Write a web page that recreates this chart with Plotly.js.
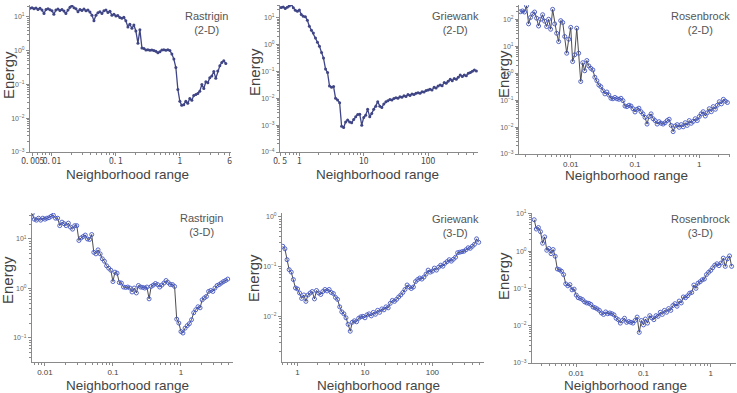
<!DOCTYPE html>
<html>
<head>
<meta charset="utf-8">
<script src="https://cdn.plot.ly/plotly-3.0.1.min.js"></script>
<style>
  html, body { margin: 0; padding: 0; background: #ffffff; }
  #chart { width: 737px; height: 393px; }
</style>
</head>
<body>
<div id="chart"></div>
<script>
// ---------------------------------------------------------------
// Energy versus neighborhood range, three test functions, 2-D / 3-D
// ---------------------------------------------------------------

// Rastrigin, 2-D
const rastrigin2dRange = [
  0.00453,0.00487,0.00523,0.00562,0.00604,0.00649,0.00698,0.00750,0.00806,0.00866,0.00931,
  0.0100,0.0107,0.0115,0.0124,0.0133,0.0143,0.0154,0.0165,0.0178,0.0191,0.0205,0.0221,0.0237,0.0255,0.0274,0.0294,
  0.0316,0.0340,0.0365,0.0392,0.0422,0.0453,0.0487,0.0523,0.0562,0.0604,0.0649,0.0698,0.0750,0.0806,0.0866,0.0931,
  0.100,0.107,0.115,0.124,0.133,0.143,0.154,0.165,0.178,0.191,0.205,0.221,0.237,0.255,0.274,0.294,
  0.316,0.340,0.365,0.392,0.422,0.453,0.487,0.523,0.562,0.604,0.649,0.698,0.750,0.806,0.866,0.931,
  1.00,1.07,1.15,1.24,1.33,1.43,1.54,1.65,1.78,1.91,2.05,2.21,2.37,2.55,2.74,2.94,3.16,3.40,3.65,3.92,4.22,4.53,4.87,5.23
];
const rastrigin2dEnergy = [
  17.8,18.6,17.4,18.2,16.6,17.8,15.8,12.6,16.6,17.4,16.2,
  15.1,12.0,15.8,17.0,15.5,16.6,14.8,12.6,15.8,19.1,21.4,18.6,17.4,14.1,16.6,15.5,
  17.0,15.1,15.8,13.8,11.2,7.6,11.2,13.2,14.1,12.6,15.1,15.8,13.5,14.5,11.2,12.0,
  10.5,11.0,9.55,9.12,9.77,7.59,5.01,6.03,4.57,5.75,3.80,1.66,4.17,1.20,1.15,1.05,
  1.07,1.02,1.05,1.00,0.955,0.871,0.933,1.05,1.07,1.02,1.07,1.00,0.794,0.562,0.316,0.0708,
  0.0316,0.0240,0.0251,0.0316,0.0275,0.0380,0.0339,0.0468,0.0501,0.0537,0.0631,0.100,0.0759,0.120,0.112,0.158,
  0.178,0.240,0.151,0.251,0.355,0.447,0.501,0.417
];

// Griewank, 2-D
const griewank2dRange = [
  0.523,0.562,0.604,0.649,0.698,0.750,0.806,0.866,0.931,
  1.00,1.07,1.15,1.24,1.33,1.43,1.54,1.65,1.78,1.91,2.05,2.21,2.37,2.55,2.74,2.94,
  3.16,3.40,3.65,3.92,4.22,4.53,4.87,5.23,5.62,6.04,6.49,6.98,7.50,8.06,8.66,9.31,
  10.0,10.7,11.5,12.4,13.3,14.3,15.4,16.5,17.8,19.1,20.5,22.1,23.7,25.5,27.4,29.4,
  31.6,34.0,36.5,39.2,42.2,45.3,48.7,52.3,56.2,60.4,64.9,69.8,75.0,80.6,86.6,93.1,
  100,107,115,124,133,143,154,165,178,191,205,221,237,255,274,294,316,340,365,392,422,453,487,523,562
];
const griewank2dEnergy = [
  24.5,25.7,22.4,25.1,27.5,30.9,24.0,19.1,17.8,
  19.5,13.5,11.5,11.0,8.13,4.90,3.47,2.75,1.78,1.23,0.871,0.513,0.316,0.123,0.0912,0.0288,
  0.0257,0.0275,0.0100,0.00871,0.00692,0.000912,0.000813,0.00132,0.00155,0.00132,0.00123,0.00162,0.00204,0.00251,0.00257,0.00100,
  0.00195,0.00234,0.00389,0.00204,0.00275,0.00389,0.00513,0.00741,0.00513,0.00457,0.00617,0.00741,0.00813,0.00912,0.00871,0.00977,
  0.0105,0.0100,0.0115,0.0110,0.0126,0.0117,0.0138,0.0129,0.0145,0.0138,0.0155,0.0162,0.0155,0.0178,0.0174,0.0195,
  0.0204,0.0219,0.0204,0.0257,0.0245,0.0288,0.0316,0.0295,0.0389,0.0363,0.0437,0.0513,0.0457,0.0550,0.0513,0.0617,
  0.0741,0.0646,0.0741,0.0692,0.0871,0.0912,0.102,0.115,0.105
];

// Rosenbrock, 2-D
const rosenbrock2dRange = [
  0.00165,0.00178,0.00191,0.00205,0.00221,0.00237,0.00255,0.00274,0.00294,
  0.00316,0.00340,0.00365,0.00392,0.00422,0.00453,0.00487,0.00523,0.00562,0.00604,0.00649,0.00698,0.00750,0.00806,0.00866,0.00931,
  0.0100,0.0107,0.0115,0.0124,0.0133,0.0143,0.0154,0.0165,0.0178,0.0191,0.0205,0.0221,0.0237,0.0255,0.0274,0.0294,
  0.0316,0.0340,0.0365,0.0392,0.0422,0.0453,0.0487,0.0523,0.0562,0.0604,0.0649,0.0698,0.0750,0.0806,0.0866,0.0931,
  0.100,0.107,0.115,0.124,0.133,0.143,0.154,0.165,0.178,0.191,0.205,0.221,0.237,0.255,0.274,0.294,
  0.316,0.340,0.365,0.392,0.422,0.453,0.487,0.523,0.562,0.604,0.649,0.698,0.750,0.806,0.866,0.931,
  1.00,1.07,1.15,1.24,1.33,1.43,1.54,1.65,1.78,1.91,2.05,2.21,2.37,2.55,2.74
];
const rosenbrock2dEnergy = [
  191,204,186,316,67.6,117,158,186,110,56.2,100,148,85.1,53.7,100,42.7,234,67.6,30.2,14.8,89.1,75.9,22.9,5.50,18.2,
  50.1,2.69,4.79,46.8,5.50,0.490,2.45,1.23,2.95,1.86,1.51,1.32,0.708,0.525,0.363,0.316,
  0.224,0.170,0.200,0.155,0.117,0.112,0.126,0.112,0.107,0.117,0.0955,0.0603,0.0575,0.0646,0.0603,0.0479,
  0.0363,0.0457,0.0501,0.0372,0.0309,0.0229,0.0129,0.0245,0.0309,0.0204,0.0174,0.0129,0.0158,0.0138,0.0129,0.0145,
  0.0174,0.0195,0.0115,0.00676,0.0110,0.0123,0.00977,0.0123,0.0102,0.0145,0.0115,0.0174,0.0138,0.0162,0.0204,0.0174,
  0.0245,0.0309,0.0372,0.0257,0.0339,0.0479,0.0372,0.0575,0.0457,0.0646,0.0871,0.0724,0.107,0.0912,0.0813
];

// Rastrigin, 3-D
const rastrigin3dRange = [
  0.00649,0.00698,0.00750,0.00806,0.00866,0.00931,
  0.0100,0.0107,0.0115,0.0124,0.0133,0.0143,0.0154,0.0165,0.0178,0.0191,0.0205,0.0221,0.0237,0.0255,0.0274,0.0294,
  0.0316,0.0340,0.0365,0.0392,0.0422,0.0453,0.0487,0.0523,0.0562,0.0604,0.0649,0.0698,0.0750,0.0806,0.0866,0.0931,
  0.100,0.107,0.115,0.124,0.133,0.143,0.154,0.165,0.178,0.191,0.205,0.221,0.237,0.255,0.274,0.294,
  0.316,0.340,0.365,0.392,0.422,0.453,0.487,0.523,0.562,0.604,0.649,0.698,0.750,0.806,0.866,0.931,
  1.00,1.07,1.15,1.24,1.33,1.43,1.54,1.65,1.78,1.91,2.05,2.21,2.37,2.55,2.74,2.94,3.16,3.40,3.65,3.92,4.22,4.53,4.87
];
const rastrigin3dEnergy = [
  32.4,25.1,24.0,26.3,24.0,26.3,
  25.1,26.3,26.9,28.8,30.2,26.3,26.3,18.6,21.9,20.4,18.6,20.9,17.4,15.8,18.6,18.6,
  9.33,10.5,11.2,12.0,10.0,9.77,12.3,5.37,5.01,6.03,5.01,3.98,3.55,2.88,2.57,2.34,
  1.38,2.14,2.04,1.32,1.29,1.07,1.05,1.07,1.02,0.851,1.02,0.813,1.15,1.07,1.05,1.02,
  1.07,0.617,1.10,1.17,1.26,1.20,1.07,1.17,1.29,1.45,1.32,1.20,1.20,1.10,0.240,0.200,
  0.135,0.126,0.158,0.178,0.195,0.234,0.324,0.372,0.427,0.407,0.589,0.646,0.692,0.871,0.912,0.871,
  1.02,1.15,1.20,1.29,1.38,1.45,1.55
];

// Griewank, 3-D
const griewank3dRange = [
  0.604,0.649,0.698,0.750,0.806,0.866,0.931,
  1.00,1.07,1.15,1.24,1.33,1.43,1.54,1.65,1.78,1.91,2.05,2.21,2.37,2.55,2.74,2.94,
  3.16,3.40,3.65,3.92,4.22,4.53,4.87,5.23,5.62,6.04,6.49,6.98,7.50,8.06,8.66,9.31,
  10.0,10.7,11.5,12.4,13.3,14.3,15.4,16.5,17.8,19.1,20.5,22.1,23.7,25.5,27.4,29.4,
  31.6,34.0,36.5,39.2,42.2,45.3,48.7,52.3,56.2,60.4,64.9,69.8,75.0,80.6,86.6,93.1,
  100,107,115,124,133,143,154,165,178,191,205,221,237,255,274,294,316,340,365,392,422,453,487
];
const griewank3dEnergy = [
  0.257,0.229,0.138,0.0871,0.0776,0.0550,0.0372,
  0.0355,0.0295,0.0229,0.0269,0.0200,0.0269,0.0295,0.0316,0.0224,0.0331,0.0295,0.0275,0.0316,0.0347,0.0324,0.0347,
  0.0302,0.0288,0.0240,0.0219,0.0155,0.0123,0.0112,0.00933,0.00692,0.00501,0.00759,0.00813,0.00776,0.00912,0.00977,0.0100,
  0.00933,0.0107,0.0112,0.0102,0.0120,0.0110,0.0132,0.0120,0.0141,0.0135,0.0155,0.0148,0.0182,0.0209,0.0200,0.0219,
  0.0245,0.0269,0.0302,0.0347,0.0427,0.0389,0.0363,0.0389,0.0501,0.0550,0.0589,0.0562,0.0617,0.0708,0.0851,0.0776,
  0.0813,0.0933,0.0851,0.0977,0.107,0.102,0.117,0.126,0.138,0.129,0.141,0.155,0.191,0.195,0.200,0.204,
  0.219,0.240,0.234,0.257,0.282,0.363,0.309
];

// Rosenbrock, 3-D
const rosenbrock3dRange = [
  0.00237,0.00255,0.00274,0.00294,0.00316,0.00340,0.00365,0.00392,0.00422,0.00453,
  0.00487,0.00523,0.00562,0.00604,0.00649,0.00698,0.00750,0.00806,0.00866,0.00931,
  0.0100,0.0107,0.0115,0.0124,0.0133,0.0143,0.0154,0.0165,0.0178,0.0191,0.0205,0.0221,0.0237,0.0255,0.0274,0.0294,
  0.0316,0.0340,0.0365,0.0392,0.0422,0.0453,0.0487,0.0523,0.0562,0.0604,0.0649,0.0698,0.0750,0.0806,0.0866,0.0931,
  0.100,0.107,0.115,0.124,0.133,0.143,0.154,0.165,0.178,0.191,0.205,0.221,0.237,0.255,0.274,0.294,
  0.316,0.340,0.365,0.392,0.422,0.453,0.487,0.523,0.562,0.604,0.649,0.698,0.750,0.806,0.866,0.931,
  1.00,1.07,1.15,1.24,1.33,1.43,1.54,1.65,1.78,1.91,2.05
];
const rosenbrock3dEnergy = [
  6.92,3.89,4.27,3.31,1.62,2.40,1.05,1.17,0.851,1.10,
  0.724,0.331,0.316,0.288,0.234,0.132,0.117,0.126,0.0912,0.0955,
  0.0661,0.0562,0.0537,0.0501,0.0437,0.0407,0.0398,0.0372,0.0316,0.0302,0.0282,0.0257,0.0219,0.0200,0.0234,0.0209,
  0.0219,0.0209,0.0195,0.0158,0.0145,0.0117,0.0138,0.0158,0.0123,0.0129,0.0123,0.0117,0.0138,0.0170,0.00661,0.0138,
  0.0105,0.0151,0.0117,0.0186,0.0162,0.0145,0.0186,0.0178,0.0229,0.0200,0.0257,0.0229,0.0288,0.0257,0.0347,0.0389,
  0.0331,0.0457,0.0407,0.0589,0.0562,0.0631,0.0741,0.0776,0.123,0.100,0.138,0.151,0.170,0.178,0.234,0.269,
  0.302,0.355,0.417,0.457,0.407,0.479,0.646,0.389,0.617,0.741,0.389
];

// Panel titles and axis labels
const panelNames = ["Rastrigin<br>(2-D)", "Griewank<br>(2-D)", "Rosenbrock<br>(2-D)",
                    "Rastrigin<br>(3-D)", "Griewank<br>(3-D)", "Rosenbrock<br>(3-D)"];
const xTitle = "Neighborhood range";
const yTitle = "Energy";

// Tick labels per panel
const xTickVals = [[0.005, 0.01, 0.1, 1, 6], [0.5, 1, 10, 100, 600], [0.01, 0.1, 1],
                   [0.01, 0.1, 1], [1, 10, 100], [0.01, 0.1, 1]];
const xTickText = [["0. 005", "0. 01", "0. 1", "1", "6"], ["0. 5", "1", "10", "100", "600"], ["0.01", "0.1", "1"],
                   ["0.01", "0.1", "1"], ["1", "10", "100"], ["0.01", "0.1", "1"]];
const yTickExp = [[-3, -2, -1, 0, 1], [-4, -3, -2, -1, 0, 1], [-3, -2, -1, 0, 1, 2],
                  [-1, 0, 1], [-2, -1, 0], [-3, -2, -1, 0, 1]];

// ---------------------------------------------------------------
// Layout geometry (pixels) and styles
// ---------------------------------------------------------------
const W = 737, H = 393;
const series = [
  [rastrigin2dRange, rastrigin2dEnergy], [griewank2dRange, griewank2dEnergy], [rosenbrock2dRange, rosenbrock2dEnergy],
  [rastrigin3dRange, rastrigin3dEnergy], [griewank3dRange, griewank3dEnergy], [rosenbrock3dRange, rosenbrock3dEnergy]
];
// plot boxes: left, right, top, bottom (px); axis ranges in log10 units
const boxes = [
  {l: 30,  r: 231, t: 5,   b: 152, xr: [-2.344, 0.80],  yr: [-3, 1.35]},
  {l: 280, r: 478, t: 5,   b: 152, xr: [-0.301, 2.775], yr: [-4, 1.48]},
  {l: 519, r: 730, t: 5,   b: 154, xr: [-2.805, 0.478], yr: [-3, 2.53]},
  {l: 32,  r: 233, t: 213, b: 362, xr: [-2.19, 0.765],  yr: [-1.485, 1.525]},
  {l: 282, r: 484, t: 213, b: 362, xr: [-0.231, 2.766], yr: [-2.92, 0.08]},
  {l: 532, r: 736, t: 213, b: 363, xr: [-2.658, 0.377], yr: [-3, 1.02]}
];
// label positions (px)
const xTitlePos = [[127, 174], [377, 174], [626, 175], [128, 385], [378, 385], [625, 385]];
const yTitlePos = [[8, 75], [255, 72], [503, 74], [7, 280], [253, 278], [503, 276]];
const namePos   = [[206, 8], [455, 8], [700, 8], [202, 210], [455, 211], [700, 211]];

const AXIS_GREY = "#8a8a8a";
const TEXT_GREY = "#555555";
const FONT = "Liberation Sans, Arial, sans-serif";

function supText(p) {
  return "10<sup>" + (p < 0 ? "\u2212" + (-p) : p) + "</sup>";
}

const traces = [];
const layout = {
  width: W, height: H,
  margin: {l: 0, r: 0, t: 0, b: 0},
  paper_bgcolor: "#ffffff", plot_bgcolor: "#ffffff",
  showlegend: false,
  font: {family: FONT, color: TEXT_GREY},
  annotations: []
};

boxes.forEach((bx, i) => {
  const n = i + 1;
  const xa = "xaxis" + (n === 1 ? "" : n);
  const ya = "yaxis" + (n === 1 ? "" : n);
  const xid = "x" + (n === 1 ? "" : n);
  const yid = "y" + (n === 1 ? "" : n);
  const topRow = i < 2;
  const openMarkers = i >= 2;

  traces.push({
    x: series[i][0], y: series[i][1],
    xaxis: xid, yaxis: yid,
    type: "scatter",
    mode: "lines+markers",
    line: {color: openMarkers ? "#3a3a3a" : "#3f4585", width: openMarkers ? 0.9 : 1.3},
    marker: openMarkers
      ? {symbol: "circle-open", size: 4, color: "#4356c4", line: {width: 0.9, color: "#4356c4"}}
      : {symbol: "circle", size: 3, color: "#3f4585"},
    hoverinfo: "x+y"
  });

  const common = {
    type: "log",
    showline: true, linecolor: AXIS_GREY, linewidth: 1,
    showgrid: false, zeroline: false,
    ticks: "outside", ticklen: 3, tickcolor: AXIS_GREY, tickwidth: 1,
    minor: {dtick: "D1", ticks: "outside", ticklen: 2, tickcolor: AXIS_GREY, tickwidth: 1, showgrid: false},
    tickmode: "array",
    tickangle: 0,
    fixedrange: true
  };

  layout[xa] = Object.assign({}, common, {
    domain: [bx.l / W, bx.r / W],
    range: bx.xr,
    anchor: yid,
    tickvals: xTickVals[i],
    ticktext: xTickText[i],
    ticklabelstandoff: topRow ? -2 : -1,
    tickfont: (topRow
      ? {family: "Noto Sans CJK JP, sans-serif", size: 8.5, color: "#444"}
      : {family: FONT, size: 8, color: "#444"})
  });
  layout[ya] = Object.assign({}, common, {
    domain: [1 - bx.b / H, 1 - bx.t / H],
    range: bx.yr,
    anchor: xid,
    tickvals: yTickExp[i].map(p => Math.pow(10, p)),
    ticktext: yTickExp[i].map(supText),
    tickfont: {family: FONT, size: 7, color: "#666"}
  });

  layout.annotations.push({
    text: xTitle, xref: "paper", yref: "paper",
    x: xTitlePos[i][0] / W, y: 1 - xTitlePos[i][1] / H,
    xanchor: "center", yanchor: "middle", showarrow: false,
    font: {family: FONT, size: 13.5, color: "#444"}
  });
  layout.annotations.push({
    text: yTitle, xref: "paper", yref: "paper", textangle: -90,
    x: yTitlePos[i][0] / W, y: 1 - yTitlePos[i][1] / H,
    xanchor: "center", yanchor: "middle", showarrow: false,
    font: {family: FONT, size: 15, color: "#444"}
  });
  layout.annotations.push({
    text: panelNames[i], xref: "paper", yref: "paper",
    x: namePos[i][0] / W, y: 1 - namePos[i][1] / H,
    xanchor: "center", yanchor: "top", showarrow: false, align: "center",
    font: {family: FONT, size: 11, color: TEXT_GREY}
  });
});

Plotly.newPlot("chart", traces, layout, {staticPlot: true, displayModeBar: false});
</script>
</body>
</html>
